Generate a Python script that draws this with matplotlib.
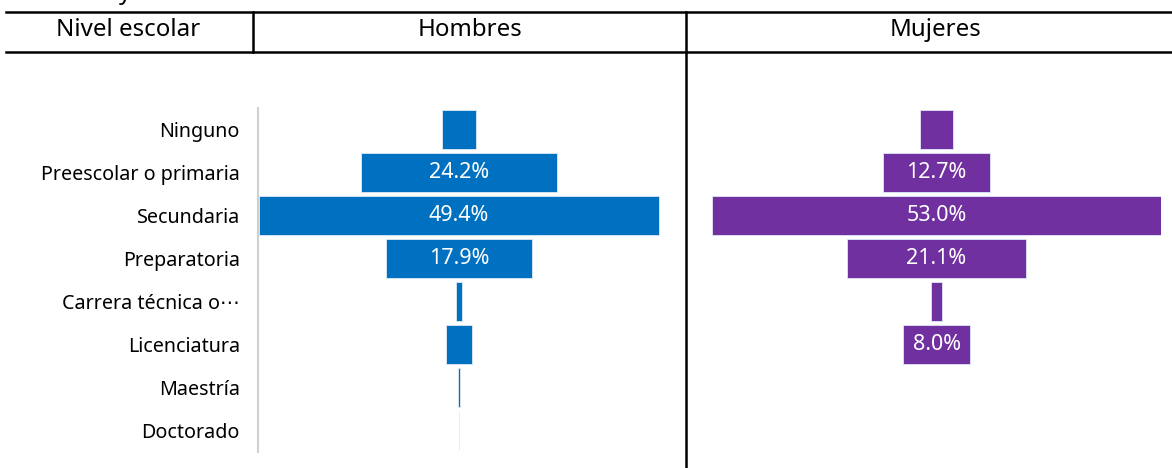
import matplotlib.pyplot as plt
from matplotlib.lines import Line2D

plt.rcParams['font.family'] = ['Noto Sans', 'DejaVu Sans']

# data (percent)
niveles = ['Ninguno', 'Preescolar o primaria', 'Secundaria', 'Preparatoria',
           'Carrera técnica o\u22ef', 'Licenciatura', 'Maestría', 'Doctorado']
hombres = [4.3, 24.2, 49.4, 17.9, 0.7, 3.2, 0.3, 0.1]
mujeres = [4.0, 12.7, 53.0, 21.1, 1.2, 8.0, 0.0, 0.0]
encabezados = ['Nivel escolar', 'Hombres', 'Mujeres']

W, H = 1172, 468
fig = plt.figure(figsize=(W / 100, H / 100), dpi=100)


def px_axes(x0, y0, x1, y1):
    # pixel box (top-left origin) -> figure axes
    return fig.add_axes([x0 / W, 1 - y1 / H, (x1 - x0) / W, (y1 - y0) / H])


def funnel(ax, vals, color, half):
    for i, v in enumerate(vals):
        if v <= 0:
            continue
        ax.barh(i, v, left=-v / 2, height=0.93, color=color,
                edgecolor='#dfe9f5', linewidth=0.6)
        if v >= 8:
            ax.text(0, i, f'{v:.1f}%', ha='center', va='center',
                    color='white', fontsize=15.5)
    ax.set_xlim(-half, half)
    ax.set_ylim(len(vals) - 0.5, -0.5)
    ax.set_xticks([])
    for s in ['top', 'right', 'bottom', 'left']:
        ax.spines[s].set_visible(False)


ax1 = px_axes(258, 108, 660, 452)
funnel(ax1, hombres, '#0070C0', 24.8)
ax1.spines['left'].set_visible(True)
ax1.spines['left'].set_color('#d0d0d0')
ax1.spines['left'].set_linewidth(1.5)
ax1.set_yticks(range(len(niveles)))
ax1.set_yticklabels(niveles, fontsize=14.2)
ax1.tick_params(axis='y', length=0, pad=13)

ax2 = px_axes(712, 108, 1161, 452)
funnel(ax2, mujeres, '#7030A0', 26.5)
ax2.set_yticks([])

# table header lines
def line(x0, y0, x1, y1, lw=1.8):
    fig.add_artist(Line2D([x0 / W, x1 / W], [1 - y0 / H, 1 - y1 / H],
                          color='black', linewidth=lw))

line(6, 12, W, 12)
line(6, 52, W, 52)
line(253, 12, 253, 52)
line(686, 12, 686, 468)

for txt, xc in zip(encabezados, [128, 470, 936]):
    fig.text(xc / W, 1 - 30 / H, txt, ha='center', va='center', fontsize=17.3)

# remnant of the title line cut at the top edge
fig.text(125 / W, 1 + 1 / H, 'y', ha='center', va='baseline', fontsize=17.3)

fig.savefig('out.png', dpi=100)
